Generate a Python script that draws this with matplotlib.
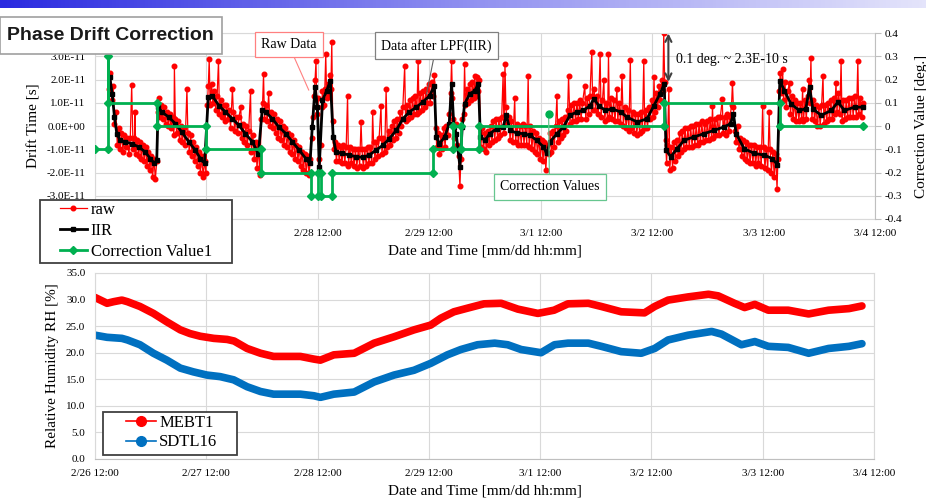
#!/usr/bin/env python3
"""Phase drift correction (raw / IIR / correction steps) and relative humidity."""

import matplotlib

matplotlib.use("Agg")
import matplotlib.dates as mdates
import matplotlib.pyplot as plt
import numpy as np
import pandas as pd
from matplotlib.colors import LinearSegmentedColormap
from matplotlib.lines import Line2D
from matplotlib.patches import Rectangle
from matplotlib.ticker import FuncFormatter

START = pd.Timestamp("2016-02-26 12:00")
N_DAYS = 7

# raw drift samples: (hours since 2/26 12:00, drift in 1E-11 s)
raw_samples = [
    (3.0, 1.6), (3.3, 2.3), (3.6, 1.1), (3.9, 1.7), (4.2, 0.1), (4.5, 0.6), (4.8, -0.8), (5.1, -0.1),
    (5.4, -1.0), (5.7, -0.3), (6.0, -1.1), (6.3, -0.4), (6.6, -0.9), (6.9, -0.5), (7.3, -1.2), (7.6, -0.5),
    (7.9, 1.75), (8.2, -1.0), (8.5, -0.5), (8.6, 0.6), (8.8, -1.2), (9.1, -0.6), (9.4, -1.3), (9.7, -0.7),
    (10.0, -1.4), (10.3, -0.8), (10.6, -1.5), (10.9, -0.9), (11.2, -1.7), (11.5, -1.1), (11.8, -1.9),
    (12.1, -1.3), (12.4, -2.2), (12.7, -1.4), (13.0, -2.3), (13.3, -1.5),
    (13.5, 0.6), (13.7, 1.2), (14.0, 0.4), (14.3, 0.9), (14.6, 0.3), (14.9, 0.8), (15.2, 0.1), (15.5, 0.6),
    (15.8, 0.0), (16.1, 0.5), (16.4, -0.1), (16.7, 0.4), (17.0, -0.4), (17.1, 2.56), (17.3, 0.3),
    (17.6, -0.3), (17.9, 0.2), (18.2, -0.6), (18.5, 0.0), (18.8, -0.7), (19.1, -0.1), (19.4, -0.8),
    (19.8, 1.6), (20.0, -0.3), (20.3, -1.1), (20.6, -0.4), (20.9, -1.3), (21.2, -0.7), (21.5, -1.5),
    (21.8, -0.9), (22.1, -1.7), (22.4, -1.1), (22.7, -2.0), (23.0, -1.3), (23.3, -2.2), (23.6, -1.5),
    (23.9, -2.0),
    (24.2, 0.9), (24.4, 1.7), (24.6, 2.88), (24.8, 0.9), (25.1, 1.8), (25.4, 1.0), (25.7, 1.5), (26.0, 0.7),
    (26.3, 1.3), (26.6, 2.8), (26.8, 0.5), (27.1, 1.1), (27.4, 0.4), (27.7, 0.9), (28.0, 0.2), (28.3, 0.9),
    (28.6, 0.3), (28.9, 0.7), (29.2, -0.1), (29.6, 1.6), (29.8, 0.6), (30.1, -0.2), (30.4, 0.4),
    (30.7, -0.3), (31.0, 0.4), (31.4, 0.8), (31.6, -0.5), (31.9, 0.1), (32.2, -0.7), (32.5, 0.0),
    (32.8, -0.8), (33.1, -0.2), (33.5, 1.5), (33.7, -1.1), (34.0, -0.4), (34.3, -1.4), (34.6, -0.7),
    (34.9, -1.8), (35.2, -0.9), (35.5, -2.1),
    (35.8, 0.3), (36.1, 1.0), (36.3, 2.24), (36.5, 0.3), (36.8, 0.9), (37.1, 0.2), (37.4, 1.4), (37.7, 0.0),
    (38.0, 0.6), (38.3, -0.1), (38.6, 0.5), (38.9, -0.3), (39.2, 0.3), (39.5, -0.5), (39.8, 0.2),
    (40.1, -0.6), (40.4, 0.0), (40.7, -0.8), (41.0, -0.1), (41.3, -0.9), (41.6, -0.3), (41.9, -1.1),
    (42.2, -0.4), (42.5, -1.2), (42.8, -0.6), (43.1, -1.4), (43.4, -0.8), (43.7, -1.5), (44.0, -0.9),
    (44.3, -1.7), (44.6, -1.1), (44.9, -1.9), (45.2, -1.2), (45.5, -2.0), (45.8, -1.3), (46.1, -2.1),
    (46.4, -1.4),
    (46.7, -0.5), (46.9, 0.4), (47.2, 1.3), (47.4, 2.0), (47.6, 2.8), (47.8, 0.5), (48.0, 1.2), (48.2, -1.4),
    (48.4, -2.0), (48.6, -0.8), (48.8, 0.8), (49.0, 1.5), (49.3, 0.9), (49.5, 1.6), (49.7, 3.09),
    (49.9, 1.2), (50.1, 1.8), (50.4, 1.3), (50.6, 2.2), (50.8, 1.6), (51.0, 3.6), (51.2, 0.2), (51.4, -1.0),
    (51.7, -0.7), (52.0, -1.5), (52.3, -0.8), (52.6, -1.5), (52.9, -0.9), (53.2, -1.6), (53.5, -0.8),
    (53.8, -1.6), (54.1, -0.9), (54.4, 1.3), (54.6, -1.7), (54.9, -0.9), (55.2, -1.6), (55.5, -1.0),
    (55.8, -1.7), (56.1, -1.0), (56.4, -1.8),
    (56.7, -1.0), (57.0, -1.7), (57.3, 0.17), (57.5, -1.0), (57.8, -1.8), (58.1, -1.0), (58.4, -1.7),
    (58.7, -0.9), (59.0, -1.6), (59.3, -0.9), (59.6, -1.6), (59.8, 0.6), (60.0, -0.7), (60.3, -1.4),
    (60.6, -0.7), (60.9, -1.3), (61.2, -0.5), (61.6, 0.87), (61.8, -1.2), (62.1, -0.5), (62.4, -1.1),
    (62.7, 1.58), (63.0, -0.9), (63.3, -0.2), (63.6, -0.8), (63.9, 0.0), (64.2, -0.6), (64.5, 0.2),
    (64.8, -0.5), (65.1, 0.3), (65.4, -0.3), (65.7, 0.6), (66.0, 0.0), (66.3, 0.8), (66.7, 2.58),
    (66.9, 0.2), (67.2, 0.9), (67.5, 0.3), (67.8, 1.1), (68.1, 0.4), (68.4, 1.2), (68.7, 0.5), (69.0, 1.3),
    (69.3, 0.5), (69.6, 2.79), (69.8, 0.6), (70.1, 1.4), (70.4, 0.7), (70.7, 1.5), (71.0, 0.8), (71.3, 1.6),
    (71.6, 1.0), (71.9, 1.8), (72.2, 1.0), (72.5, 1.9), (72.8, 1.3), (73.1, 2.2),
    (73.4, -0.1), (73.6, -0.9), (73.9, -0.3), (74.2, -1.2), (74.5, -0.4), (74.8, -1.0), (75.1, -0.1),
    (75.4, -0.9), (75.7, 0.0), (76.0, -0.4), (76.3, 0.5), (76.6, 1.4), (76.8, 2.8), (77.0, 1.2), (77.2, 0.3),
    (77.4, -0.5), (77.7, 0.1), (78.0, -0.8), (78.3, -1.3), (78.6, -2.6), (78.8, -1.4), (79.1, 0.3),
    (79.4, 0.5), (79.6, 2.65), (79.8, 0.9), (80.1, 1.6), (80.4, 1.0), (80.7, 1.8), (81.0, 1.1), (81.3, 1.9),
    (81.6, 1.2), (81.8, 2.15), (82.0, 1.3), (82.3, 2.1), (82.6, 1.5), (82.8, 2.0),
    (83.1, -0.9), (83.4, -0.1), (83.7, -1.0), (84.0, -0.3), (84.3, -1.1), (84.6, -0.2), (84.9, -0.8),
    (85.2, 0.0), (85.5, -0.7), (85.8, 0.2), (86.1, -0.6), (86.4, 0.3), (86.7, -0.5), (87.0, 0.3),
    (87.3, -0.4), (87.6, 0.4), (87.9, 2.24), (88.1, -0.3), (88.3, 2.65), (88.5, 0.8), (88.8, 0.1),
    (89.1, 0.4), (89.4, -0.6), (89.7, 0.2), (90.0, -0.7), (90.4, 1.2), (90.6, -0.7), (90.9, 0.1),
    (91.2, -0.8), (91.5, 0.0), (91.8, -0.8), (92.1, 0.1), (92.4, -0.8), (92.7, 0.0), (93.0, -0.8),
    (93.3, 2.15), (93.5, -0.9), (93.8, 0.0), (94.1, -1.0), (94.4, -0.2), (94.7, -1.1), (95.0, -0.3),
    (95.3, -1.2), (95.6, -0.5), (95.9, -1.4), (96.2, -0.6), (96.5, -1.5), (96.8, -0.7), (97.1, -1.9),
    (97.4, -0.8),
    (97.7, -1.2), (98.0, -0.3), (98.3, -1.1), (98.6, -0.2), (98.9, -0.9), (99.2, 0.0), (99.5, 1.3),
    (99.7, -0.7), (100.0, 0.2), (100.3, -0.5), (100.6, 0.3), (100.9, -0.4), (101.2, 0.4), (101.5, -0.2),
    (101.8, 0.7), (102.0, 2.15), (102.3, 0.1), (102.6, 0.9), (102.9, 0.2), (103.2, 1.0), (103.5, 0.2),
    (103.8, 1.0), (104.1, 0.3), (104.4, 1.1), (104.7, 0.3), (105.0, 1.0), (105.5, 1.74), (105.7, 0.3),
    (106.0, 1.2), (106.3, 0.5), (106.6, 1.3), (107.0, 3.2), (107.2, 0.7), (107.5, 1.6), (107.8, 0.7),
    (108.1, 1.3), (108.4, 0.5), (108.8, 3.1), (109.0, 0.4), (109.3, 1.1), (109.6, 2.0), (109.8, 0.2),
    (110.1, 1.0), (110.4, 0.3), (110.6, 3.08), (110.8, 0.4), (111.1, 1.2), (111.4, 0.3), (111.7, 1.1),
    (112.0, 0.2), (112.4, 1.6), (112.6, 0.2), (112.9, 1.0), (113.2, 0.1),
    (113.5, 2.15), (113.8, 0.0), (114.1, 0.8), (114.4, -0.1), (114.7, 0.7), (115.0, -0.2), (115.3, 2.86),
    (115.5, -0.1), (115.8, 0.6), (116.1, -0.3), (116.4, 0.5), (116.7, -0.4), (117.0, 0.5), (117.3, -0.3),
    (117.6, 0.6), (117.9, -0.2), (118.2, 2.79), (118.4, -0.1), (118.7, 0.7), (119.0, -0.1), (119.3, 0.8),
    (119.6, 0.3), (119.9, 1.1), (120.2, 0.4), (120.4, 2.1), (120.6, 0.6), (120.9, 1.4), (121.2, 0.8),
    (121.5, 1.7), (121.8, 1.1), (122.1, 2.0), (122.3, 1.5), (122.5, 4.0), (122.7, 1.9),
    (122.9, -0.6), (123.1, -1.6), (123.3, -0.8), (123.6, 1.6), (123.8, -1.9), (124.1, -0.9), (124.4, -1.8),
    (124.7, -0.7), (125.0, -1.5), (125.3, -0.6), (125.6, -1.3), (125.9, -0.3), (126.2, -1.1),
    (126.5, -0.2), (126.8, -1.0), (127.1, -0.1), (127.4, -0.9), (127.7, -0.1), (128.0, -0.9), (128.3, 0.0),
    (128.6, -0.9), (128.9, 0.0), (129.2, -0.8), (129.5, 0.1), (129.8, -0.8), (130.1, 0.1), (130.4, -0.7),
    (130.7, 0.2), (131.0, -0.7), (131.3, 0.1), (131.6, -0.6), (131.9, 0.2), (132.2, -0.6), (132.5, 0.3),
    (132.8, -0.5), (133.0, 0.87), (133.2, -0.5), (133.5, 0.3), (133.8, -0.4), (134.1, 0.4), (134.4, -0.4),
    (134.7, 0.4), (135.1, 1.15), (135.3, -0.3), (135.6, 0.4), (135.9, -0.4), (136.2, 0.5), (136.5, -0.2),
    (136.8, 0.4), (137.1, 0.9), (137.3, 1.87), (137.5, 0.8), (137.8, -0.2), (138.1, -0.7), (138.4, 0.0),
    (138.7, -1.0), (139.0, -0.5), (139.3, -1.3), (139.6, -0.6), (139.9, -1.4), (140.2, -0.7),
    (140.5, -1.5), (140.8, -0.8), (141.1, -1.6), (141.4, -0.8), (141.7, -1.6), (142.0, -0.8),
    (142.3, -1.7), (142.6, -0.9), (142.9, -1.6), (143.2, -0.9), (143.5, -1.7), (143.8, 0.87),
    (144.0, -0.9), (144.3, -1.8), (144.6, -1.0), (144.9, -1.9), (145.2, 0.6), (145.4, -1.0), (145.7, -2.0),
    (146.0, -1.1), (146.3, -2.2), (146.6, -1.2), (146.9, -2.7), (147.1, -1.4),
    (147.4, 1.5), (147.6, 2.3), (147.8, 1.4), (148.1, 2.44), (148.3, 1.1), (148.6, 1.9), (148.9, 0.8),
    (149.2, 1.5), (149.6, 1.87), (149.8, 0.5), (150.1, 1.3), (150.4, 0.3), (150.7, 1.1), (151.0, 0.2),
    (151.3, 1.0), (151.6, 0.2), (151.9, 1.0), (152.2, 0.3), (152.4, 1.6), (152.6, 0.2), (152.9, 1.1),
    (153.2, 0.3), (153.5, 1.3), (153.8, 2.0), (154.0, 1.0), (154.2, 2.94), (154.4, 0.3), (154.7, 1.1),
    (155.0, 0.2), (155.3, 0.9), (155.6, 0.0), (155.9, 0.8), (156.2, 0.0), (156.5, 0.9), (156.8, 2.15),
    (157.0, 0.1), (157.3, 0.9), (157.6, 0.2), (157.9, 1.0), (158.2, 0.3), (158.5, 1.1), (158.8, 0.3),
    (159.1, 1.2), (159.3, 0.5), (159.6, 1.87), (159.8, 0.6), (160.1, 1.4), (160.4, 0.5), (160.7, 2.79),
    (160.9, 0.2), (161.2, 1.1), (161.5, 0.3), (161.8, 1.1), (162.1, 0.4), (162.4, 1.2), (162.7, 0.4),
    (163.0, 1.2), (163.3, 0.4), (163.6, 1.3), (164.0, 0.4), (164.3, 2.79), (164.5, 0.5), (164.8, 1.2),
    (165.1, 0.4), (165.4, 1.0),
]

# IIR low-pass filtered drift: (hours, drift in 1E-11 s)
iir_samples = [
    (3.2, 2.09), (3.7, 1.38), (4.2, 0.38), (4.7, -0.33), (5.4, -0.61), (6.5, -0.68), (7.9, -0.76),
    (9.4, -0.90), (10.8, -1.11), (11.9, -1.40), (12.8, -1.61), (13.3, -1.47),
    (13.6, 0.81), (14.4, 0.60), (15.9, 0.38), (17.3, 0.10), (18.7, -0.26), (20.2, -0.68), (21.6, -1.04),
    (22.7, -1.40), (23.6, -1.61),
    (24.4, 1.24), (25.2, 1.31), (26.7, 0.88), (28.1, 0.60), (29.6, 0.31), (31.0, 0.03), (32.4, -0.33),
    (33.9, -0.68), (35.2, -1.20),
    (36.0, 0.67), (36.8, 0.60), (38.2, 0.31), (39.6, -0.04), (41.1, -0.33), (42.5, -0.68), (44.0, -1.04),
    (45.4, -1.40), (46.3, -1.61),
    (46.8, -0.04), (47.4, 1.67), (47.9, 0.81), (48.3, -1.75), (49.0, 1.10), (49.9, 1.52), (50.7, 1.95),
    (51.3, -0.47), (51.9, -1.11), (53.3, -1.18), (54.8, -1.25), (56.2, -1.32),
    (57.7, -1.35), (59.1, -1.25), (60.5, -1.04), (62.0, -0.83), (63.4, -0.54), (64.9, -0.19),
    (66.3, 0.31), (67.7, 0.60), (69.2, 0.81), (70.6, 1.03), (72.1, 1.31), (73.1, 1.74),
    (73.5, -0.47), (74.2, -0.76), (75.3, -0.47), (76.3, 0.10), (76.8, 1.81), (77.3, -0.04), (77.8, -0.33),
    (78.6, -1.75), (79.1, -0.04), (79.6, 0.95), (80.7, 1.38), (81.8, 1.52), (82.6, 1.81),
    (83.0, -0.47), (84.0, -0.61), (85.0, -0.33), (86.5, -0.12), (87.9, -0.04), (88.6, 0.46),
    (89.4, -0.19), (90.8, -0.30), (92.3, -0.33), (93.7, -0.40), (95.1, -0.61), (96.6, -0.90),
    (97.3, -1.18),
    (98.0, -0.68), (99.5, -0.33), (100.9, -0.04), (102.3, 0.46), (103.8, 0.60), (105.2, 0.67),
    (106.7, 0.88), (107.4, 1.17), (108.5, 0.88), (109.9, 0.67), (111.4, 0.74), (113.2, 0.60),
    (114.6, 0.38), (116.8, 0.17), (118.9, 0.31), (120.4, 0.88), (121.7, 1.38), (122.6, 1.81),
    (123.0, -1.04), (124.0, -1.32), (125.4, -0.97), (126.9, -0.61), (129.0, -0.47), (131.2, -0.33),
    (133.3, -0.19), (135.5, -0.04), (136.9, 0.10), (137.5, 0.53), (138.1, -0.33), (139.8, -0.97),
    (142.0, -1.18), (144.1, -1.25), (145.9, -1.40), (147.0, -1.68),
    (147.5, 1.95), (148.5, 1.52), (149.9, 0.95), (151.7, 0.67), (153.1, 0.74), (153.9, 1.67),
    (154.6, 0.74), (156.4, 0.46), (158.6, 0.67), (160.0, 1.03), (161.4, 0.67), (163.6, 0.81),
    (165.4, 0.81),
]

# correction value steps (right axis, deg.)
corr_hours = [0.0, 2.8, 2.8, 2.8, 13.4, 13.4, 24.0, 24.0, 35.7, 35.7, 46.5, 46.5, 48.0, 48.0, 48.6,
              48.6, 51.0, 51.0, 72.9, 72.9, 77.2, 77.2, 78.9, 78.9, 82.8, 82.8, 122.6, 122.6, 147.5,
              147.5, 165.4]
corr_deg = [-0.1, -0.1, 0.3, 0.1, 0.1, 0.0, 0.0, -0.1, -0.1, -0.2, -0.2, -0.3, -0.3, -0.2, -0.2,
            -0.3, -0.3, -0.2, -0.2, -0.1, -0.1, 0.0, 0.0, -0.1, -0.1, 0.0, 0.0, 0.1, 0.1,
            0.0, 0.0]

# relative humidity [%]: (hours, RH)
mebt1_samples = [
    (0.0, 30.4), (2.6, 29.3), (4.0, 29.6), (5.8, 29.9), (7.0, 29.6), (9.7, 28.7), (12.6, 27.4),
    (15.5, 25.8), (18.4, 24.3), (20.5, 23.6), (22.7, 23.1), (25.6, 22.7), (28.5, 22.5), (30.0, 22.2),
    (32.8, 20.8), (35.7, 19.9), (38.5, 19.3), (41.4, 19.3), (44.3, 19.3), (47.2, 18.8), (48.6, 18.6),
    (51.5, 19.6), (55.9, 19.9), (60.2, 21.8), (64.5, 23.0), (68.8, 24.3), (72.4, 25.2), (74.6, 26.5),
    (77.4, 27.7), (80.4, 28.4), (83.9, 29.2), (87.6, 29.3), (91.2, 28.2), (95.5, 27.4), (99.0, 28.0),
    (102.0, 29.2), (106.4, 29.3), (109.2, 28.7), (113.5, 27.7), (118.5, 27.5), (120.7, 28.7),
    (123.6, 29.9), (127.9, 30.5), (132.3, 31.0), (134.4, 30.7), (137.9, 29.3), (140.1, 28.5),
    (142.3, 29.1), (145.2, 28.0), (149.5, 28.0), (153.9, 27.3), (158.2, 28.0), (162.6, 28.3),
    (165.4, 28.8),
]
sdtl16_samples = [
    (0.0, 23.3), (2.6, 22.9), (5.8, 22.7), (7.0, 22.4), (9.7, 21.5), (12.6, 19.9), (15.5, 18.6),
    (18.4, 17.1), (21.2, 16.4), (24.1, 15.8), (27.0, 15.5), (29.9, 14.9), (32.8, 13.6), (35.7, 12.7),
    (38.5, 12.2), (41.4, 12.2), (44.3, 12.2), (47.2, 11.9), (48.6, 11.6), (51.5, 12.2), (55.9, 12.6),
    (60.2, 14.5), (64.5, 15.8), (68.8, 16.7), (72.4, 18.0), (76.0, 19.6), (78.9, 20.6), (82.5, 21.5),
    (86.2, 21.8), (89.0, 21.5), (91.9, 20.6), (96.2, 20.0), (99.1, 21.5), (102.0, 21.8), (106.4, 21.8),
    (109.2, 21.2), (113.5, 20.2), (117.8, 19.9), (120.7, 20.8), (123.6, 22.4), (127.9, 23.3),
    (133.0, 24.0), (135.1, 23.5), (139.4, 21.5), (142.3, 22.1), (145.2, 21.2), (149.5, 21.0),
    (153.9, 19.9), (158.2, 20.8), (162.6, 21.2), (165.4, 21.7),
]

RED = "#ff0000"
GREEN = "#00b050"
BLUE = "#0070c0"
GRID = "#d9d9d9"
W, H = 926, 503

START_NUM = mdates.date2num(START.to_pydatetime())


def to_num(hours):
    return START_NUM + np.asarray(hours, dtype=float) / 24.0


def fmt_time(x, pos):
    d = mdates.num2date(x)
    return f"{d.month}/{d.day} {d:%H:%M}"


def px_box(x0, y0, x1, y1):
    return [x0 / W, 1 - y1 / H, (x1 - x0) / W, (y1 - y0) / H]


def px_frame(x0, y0, x1, y1):
    # white framed box drawn over the axes (legend background)
    fig.patches.append(Rectangle((x0 / W, 1 - y1 / H), (x1 - x0) / W, (y1 - y0) / H,
                                 transform=fig.transFigure, fc="white", ec="#404040",
                                 lw=1.3, zorder=4))


def style_time_axis(ax, hidden=()):
    ax.set_xlim(START_NUM, START_NUM + N_DAYS)
    ax.set_xticks(START_NUM + np.arange(N_DAYS + 1))
    ax.xaxis.set_major_formatter(
        FuncFormatter(lambda x, p: "" if p in hidden else fmt_time(x, p)))
    ax.grid(True, color=GRID, lw=0.8)
    ax.set_axisbelow(True)
    ax.tick_params(length=0, labelsize=8, pad=7)
    for sp in ax.spines.values():
        sp.set_color(GRID)
    ax.set_xlabel("Date and Time [mm/dd hh:mm]", fontsize=11, labelpad=5)


plt.rcParams["font.family"] = ["Liberation Serif", "DejaVu Serif"]

fig = plt.figure(figsize=(W / 100, H / 100), dpi=100)

# --- top: drift time + correction values -----------------------------------
ax = fig.add_axes(px_box(95, 33, 875, 219))
axr = ax.twinx()
# first two date labels sit under the legend box
style_time_axis(ax, hidden=(0, 1))

raw_h, raw_v = zip(*raw_samples)
iir_h, iir_v = zip(*iir_samples)
l_raw, = ax.plot(to_num(raw_h), np.array(raw_v) * 1e-11, color=RED, lw=0.9,
                 marker="o", ms=3.3, label="raw", zorder=2)
l_iir, = ax.plot(to_num(iir_h), np.array(iir_v) * 1e-11, color="black", lw=2.0,
                 marker="s", ms=2.4, label="IIR", zorder=3)
l_corr, = axr.plot(to_num(corr_hours), corr_deg, color=GREEN, lw=2.0,
                   marker="D", ms=4, label="Correction Value1", zorder=3)

ax.set_ylim(-4e-11, 4e-11)
ax.set_yticks(np.arange(-4, 5) * 1e-11)
ax.yaxis.set_major_formatter(
    FuncFormatter(lambda v, p: "" if abs(v) > 3.5e-11 else f"{v:.1E}"))
ax.set_ylabel("Drift Time [s]", fontsize=11, labelpad=4)
ax.spines["right"].set_visible(False)

axr.set_ylim(-0.4, 0.4)
axr.set_yticks(np.round(np.arange(-4, 5) * 0.1, 1))
axr.yaxis.set_major_formatter(
    FuncFormatter(lambda v, p: "0" if abs(v) < 1e-9 else f"{v:.1f}"))
for side in ("left", "top", "bottom"):
    axr.spines[side].set_visible(False)
axr.spines["right"].set_color("#bfbfbf")
axr.tick_params(axis="y", length=4, color="#bfbfbf", labelsize=8, pad=3)
axr.set_ylabel("Correction Value [deg.]", fontsize=11, labelpad=9)

ann_font = dict(fontsize=10, ha="center", va="center", zorder=6)
axr.annotate("Raw Data", xy=(to_num(46.05), 0.154), xytext=(to_num(41.7), 0.35),
             bbox=dict(boxstyle="square,pad=0.45", fc="white", ec="#ff8080", lw=0.9),
             arrowprops=dict(arrowstyle="-", color="#ff8080", lw=0.8, shrinkA=0, shrinkB=0),
             **ann_font)
axr.annotate("Data after LPF(IIR)", xy=(to_num(71.4), 0.137), xytext=(to_num(73.5), 0.346),
             bbox=dict(boxstyle="square,pad=0.45", fc="white", ec="#808080", lw=0.9),
             arrowprops=dict(arrowstyle="-", color="#606060", lw=0.8, shrinkA=0, shrinkB=0),
             **ann_font)
axr.annotate("Correction Values", xy=(to_num(97.7), 0.051), xytext=(to_num(97.9), -0.262),
             bbox=dict(boxstyle="square,pad=0.45", fc="white", ec="#66c68f", lw=0.9),
             arrowprops=dict(arrowstyle="-", color="#66c68f", lw=0.9, shrinkA=0, shrinkB=0),
             **ann_font)
axr.plot(to_num(97.7), 0.051, "o", color=GREEN, ms=5, zorder=6)
axr.annotate("", xy=(to_num(123.5), 0.398), xytext=(to_num(123.5), 0.19),
             arrowprops=dict(arrowstyle="<->", color="#404040", lw=1.5,
                             shrinkA=0, shrinkB=0, mutation_scale=11), zorder=6)
axr.text(to_num(125.2), 0.286, "0.1 deg. ~ 2.3E-10 s", fontsize=10, va="center", zorder=6)

px_frame(40, 200, 232, 263)
fig.legend(handles=[l_raw, l_iir, l_corr], labels=["raw", "IIR", "Correction Value1"],
           loc="upper left", bbox_to_anchor=(60 / W, 1 - 201.5 / H), borderaxespad=0,
           borderpad=0, fontsize=12, handlelength=1.6, handletextpad=0.25,
           labelspacing=0.3, frameon=False)

# --- bottom: relative humidity ---------------------------------------------
axh = fig.add_axes(px_box(95, 273, 874, 459))
style_time_axis(axh)
mebt_h, mebt_v = zip(*mebt1_samples)
sdtl_h, sdtl_v = zip(*sdtl16_samples)
axh.plot(to_num(mebt_h), mebt_v, color=RED, lw=5.5, solid_capstyle="round",
         solid_joinstyle="round")
axh.plot(to_num(sdtl_h), sdtl_v, color=BLUE, lw=5.5, solid_capstyle="round",
         solid_joinstyle="round")
axh.set_ylim(0, 35)
axh.set_yticks(np.arange(0, 36, 5))
axh.yaxis.set_major_formatter(FuncFormatter(lambda v, p: f"{v:.1f}"))
axh.set_ylabel("Relative Humidity RH [%]", fontsize=11, labelpad=5)
axh.spines["bottom"].set_color("#bfbfbf")

rh_handles = [Line2D([], [], color=RED, lw=1.2, marker="o", ms=7),
              Line2D([], [], color=BLUE, lw=1.2, marker="o", ms=7)]
px_frame(103, 412, 237, 455)
fig.legend(handles=rh_handles, labels=["MEBT1", "SDTL16"], loc="upper left",
           bbox_to_anchor=(126 / W, 1 - 415 / H), borderaxespad=0, borderpad=0,
           fontsize=12, handlelength=1.8, handletextpad=0.2, labelspacing=0.2,
           frameon=False)

# --- slide decorations: gradient bar and title box -------------------------
bar = fig.add_axes([0, 1 - 8 / H, 1, 8 / H])
bar_cmap = LinearSegmentedColormap.from_list("bar", ["#2a2ae0", "#8f8ff0", "#e4e4fb"])
bar.imshow(np.linspace(0, 1, 256)[None, :], aspect="auto", cmap=bar_cmap)
bar.axis("off")

fig.patches.append(Rectangle((0, 1 - 54 / H), 222 / W, 37 / H, transform=fig.transFigure,
                             fc="white", ec="#a0a0a0", lw=1.2, zorder=4))
fig.text(7 / W, 1 - 36 / H, "Phase Drift Correction", fontsize=14, fontweight="bold",
         family="Liberation Sans", va="center", color="#1a1a1a", zorder=5)

fig.savefig("out.png", dpi=100)
plt.close(fig)
